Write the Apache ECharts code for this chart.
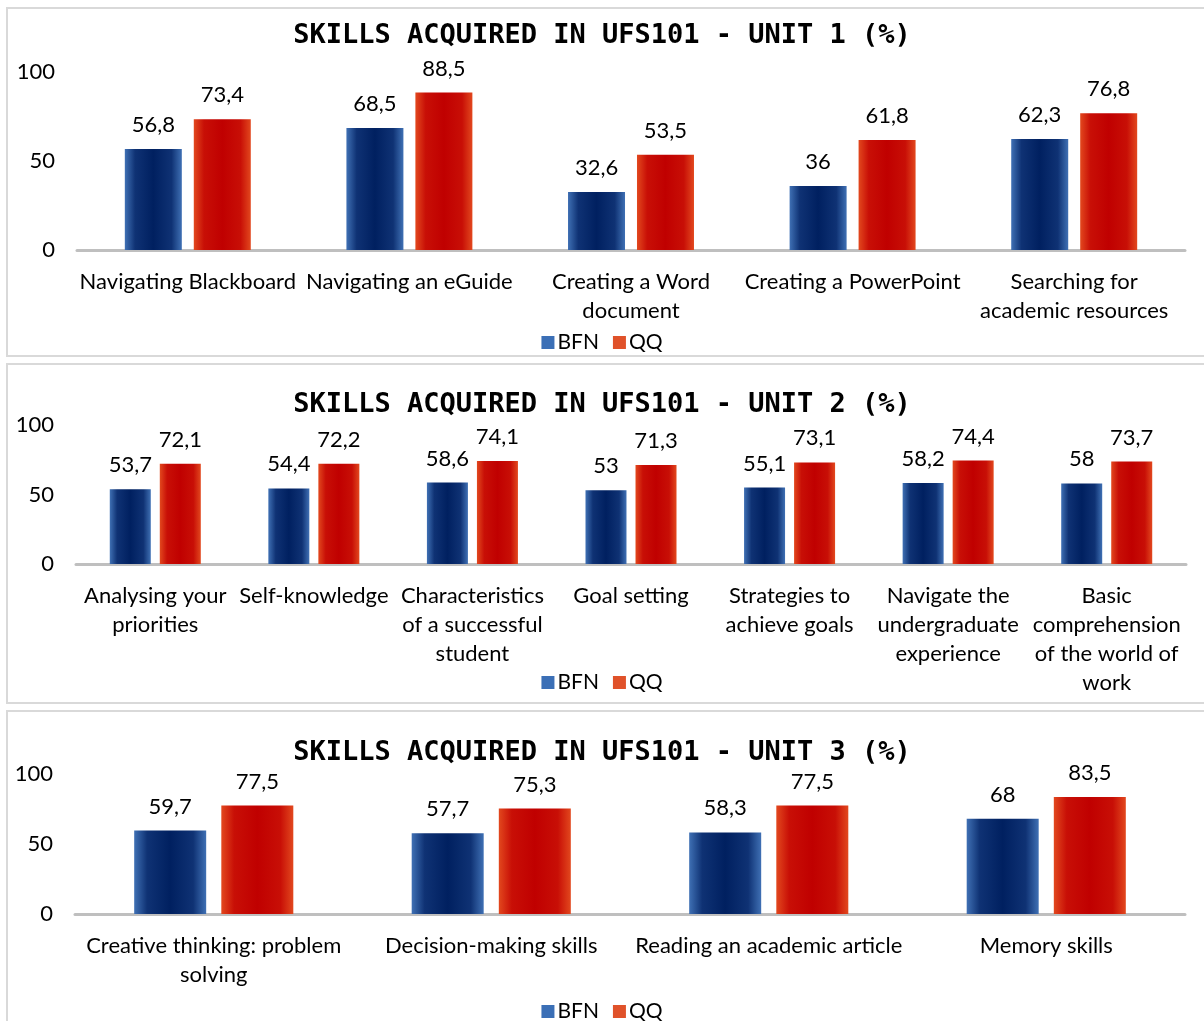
<!DOCTYPE html>
<html>
<head>
<meta charset="utf-8">
<script src="https://cdn.jsdelivr.net/npm/echarts@6/dist/echarts.min.js"></script>
<style>
  html, body { margin: 0; padding: 0; background: #fff; }
  #main { width: 1204px; height: 1021px; }
</style>
</head>
<body>
<div id="main"></div>
<script>
// data
var unit1Cats = ['Navigating Blackboard', 'Navigating an eGuide', 'Creating a Word\ndocument', 'Creating a PowerPoint', 'Searching for\nacademic resources'];
var unit1BFN = [56.8, 68.5, 32.6, 36, 62.3];
var unit1QQ = [73.4, 88.5, 53.5, 61.8, 76.8];

var unit2Cats = ['Analysing your\npriorities', 'Self-knowledge', 'Characteristics\nof a successful\nstudent', 'Goal setting', 'Strategies to\nachieve goals', 'Navigate the\nundergraduate\nexperience', 'Basic\ncomprehension\nof the world of\nwork'];
var unit2BFN = [53.7, 54.4, 58.6, 53, 55.1, 58.2, 58];
var unit2QQ = [72.1, 72.2, 74.1, 71.3, 73.1, 74.4, 73.7];

var unit3Cats = ['Creative thinking: problem\nsolving', 'Decision-making skills', 'Reading an academic article', 'Memory skills'];
var unit3BFN = [59.7, 57.7, 58.3, 68];
var unit3QQ = [77.5, 75.3, 77.5, 83.5];

var titles = ['SKILLS ACQUIRED IN UFS101 - UNIT 1 (%)', 'SKILLS ACQUIRED IN UFS101 - UNIT 2 (%)', 'SKILLS ACQUIRED IN UFS101 - UNIT 3 (%)'];
var yTicks = [0, 50, 100];

var font = 'Lato, "Open Sans", sans-serif';

var blueFill = new echarts.graphic.LinearGradient(0, 0, 1, 0, [
    {offset: 0, color: '#3f70b4'},
    {offset: 0.18, color: '#0f3274'},
    {offset: 0.5, color: '#002060'},
    {offset: 0.82, color: '#0f3274'},
    {offset: 1, color: '#3f70b4'}
]);
var redFill = new echarts.graphic.LinearGradient(0, 0, 1, 0, [
    {offset: 0, color: '#e2481e'},
    {offset: 0.18, color: '#c80f06'},
    {offset: 0.5, color: '#c00000'},
    {offset: 0.82, color: '#c80f06'},
    {offset: 1, color: '#e2481e'}
]);

// panel layout
var panels = [
    {box: [7, 8, 1220, 348], gridTop: 72, gridH: 178, left: 77, right: 19, titleTop: 17, legendTop: 327, barW: 57, gap: '21%', cats: unit1Cats, bfn: unit1BFN, qq: unit1QQ},
    {box: [7, 364, 1220, 339], gridTop: 425, gridH: 139, left: 76, right: 18, titleTop: 386, legendTop: 667, barW: 41, gap: '22%', cats: unit2Cats, bfn: unit2BFN, qq: unit2QQ},
    {box: [7, 711, 1220, 330], gridTop: 774, gridH: 140, left: 75, right: 19, titleTop: 734, legendTop: 996, barW: 72, gap: '21%', cats: unit3Cats, bfn: unit3BFN, qq: unit3QQ}
];

function fmt(p) {
    return String(p.value).replace('.', ',');
}

var option = {
    animation: false,
    title: [], grid: [], xAxis: [], yAxis: [], legend: [], series: [],
    graphic: []
};

panels.forEach(function (p, i) {
    option.graphic.push({
        type: 'rect', silent: true, z: -10,
        shape: {x: p.box[0], y: p.box[1], width: p.box[2], height: p.box[3]},
        style: {fill: '#fff', stroke: '#d9d9d9', lineWidth: 2}
    });
    option.title.push({
        text: titles[i], left: 'center', top: p.titleTop,
        textStyle: {fontFamily: '"DejaVu Sans Mono", monospace', fontWeight: 'bold', fontSize: 27, color: '#000'}
    });
    option.grid.push({left: p.left, right: p.right, top: p.gridTop, height: p.gridH});
    option.xAxis.push({
        type: 'category', gridIndex: i, data: p.cats,
        axisLine: {lineStyle: {color: '#bfbfbf', width: 3}},
        axisTick: {show: false},
        axisLabel: {fontFamily: font, fontSize: 22, color: '#000', margin: 17, lineHeight: 29, interval: 0}
    });
    option.yAxis.push({
        type: 'value', gridIndex: i, min: yTicks[0], max: yTicks[2], interval: 50,
        splitLine: {show: false}, axisLine: {show: false}, axisTick: {show: false},
        axisLabel: {fontFamily: font, fontSize: 22, color: '#000', margin: 22}
    });
    option.legend.push({
        top: p.legendTop, left: 'center', itemWidth: 13, itemHeight: 13, itemGap: 14,
        icon: 'rect',
        textStyle: {fontFamily: font, fontSize: 21, color: '#000', padding: [0, 0, 0, -2]},
        data: [
            {name: 'BFN', itemStyle: {color: '#3b6fb6'}},
            {name: 'QQ', itemStyle: {color: '#e0522a'}}
        ]
    });
    var lbl = {show: true, position: 'top', distance: 13, formatter: fmt, fontFamily: font, fontSize: 22, color: '#000'};
    option.series.push({
        name: 'BFN', type: 'bar', xAxisIndex: i, yAxisIndex: i, data: p.bfn,
        barWidth: p.barW, barGap: p.gap, itemStyle: {color: blueFill}, label: lbl
    });
    option.series.push({
        name: 'QQ', type: 'bar', xAxisIndex: i, yAxisIndex: i, data: p.qq,
        barWidth: p.barW, barGap: p.gap, itemStyle: {color: redFill}, label: lbl
    });
});

var myChart = echarts.init(document.getElementById('main'));
myChart.setOption(option);
</script>
</body>
</html>
